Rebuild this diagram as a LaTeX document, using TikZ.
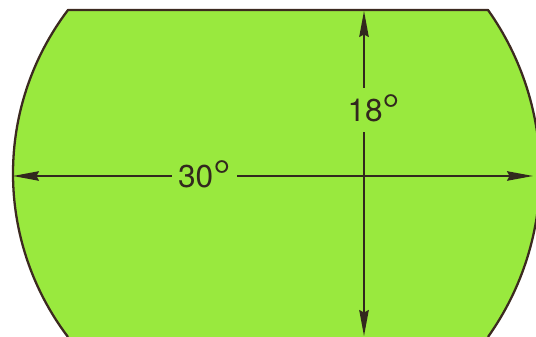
\documentclass[tikz,border=0pt]{standalone}
\usepackage{fontspec}
\setsansfont{TeX Gyre Heros}
\usepackage{tikz}
\usetikzlibrary{arrows.meta}
\definecolor{lensgreen}{RGB}{153,233,62}
\definecolor{rimink}{RGB}{60,42,32}
\definecolor{dimink}{RGB}{50,40,30}
\pgfdeclarelayer{shapelayer}
\pgfdeclarelayer{edgelayer}
\pgfdeclarelayer{nodelayer}
\pgfsetlayers{shapelayer,edgelayer,nodelayer,main}
\newcommand{\degsign}{\raisebox{-2.2pt}{\fontsize{25}{25}\selectfont °}}
\tikzstyle{none}=[inner sep=0pt]
\tikzstyle{rim}=[draw=rimink, line width=1.3pt, line join=round]
\tikzstyle{dimline}=[draw=dimink, line width=0.9pt, >={Stealth[length=5.2mm,width=1.9mm,inset=0.5mm]}, <->]
\tikzstyle{degtext}=[fill=lensgreen, inner xsep=3.6pt, inner ysep=4pt, text=dimink, font=\sffamily\fontsize{18}{20}\selectfont]

\begin{document}
\begin{tikzpicture}[x=0.02cm, y=0.02cm]
	\useasboundingbox (0,0) rectangle (536,337);
	\clip (0,0) rectangle (536,337);
	\begin{pgfonlayer}{shapelayer}
		\fill [lensgreen] (68,0) arc [start angle=217.19, end angle=142.81, radius=270.5]
			-- (488,327) arc [start angle=35.36, end angle=-35.36, radius=282.5] -- cycle;
		\draw [style=rim] (68,0) arc [start angle=217.19, end angle=142.81, radius=270.5]
			-- (488,327) arc [start angle=35.36, end angle=-35.36, radius=282.5];
	\end{pgfonlayer}
	\begin{pgfonlayer}{nodelayer}
		\node [style=none] (0) at (13, 161) {};
		\node [style=none] (1) at (533, 161) {};
		\node [style=none] (2) at (364, 326) {};
		\node [style=none] (3) at (364, 1) {};
		\node [style=degtext] (4) at (204.5, 161) {30\degsign};
		\node [style=degtext] (5) at (374, 227) {18\degsign};
	\end{pgfonlayer}
	\begin{pgfonlayer}{edgelayer}
		\draw [style=dimline] (0.center) to (1.center);
		\draw [style=dimline] (2.center) to (3.center);
	\end{pgfonlayer}
\end{tikzpicture}
\end{document}
